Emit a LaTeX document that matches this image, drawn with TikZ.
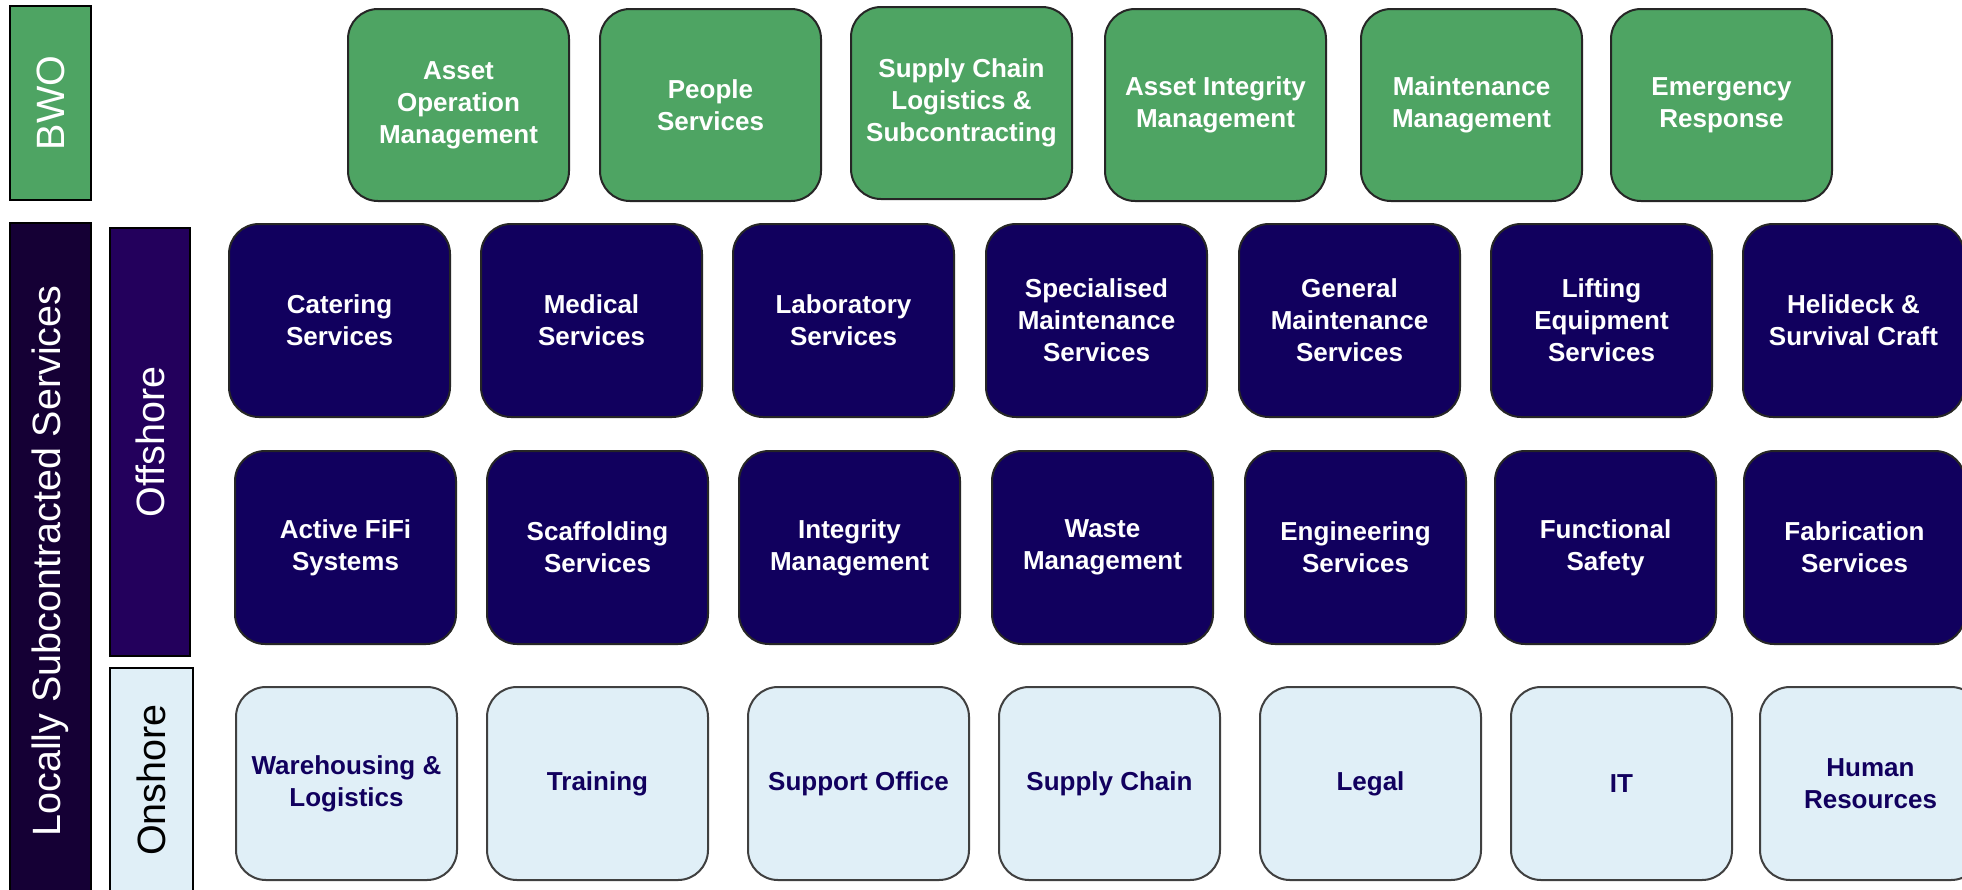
\documentclass[tikz,border=0pt]{standalone}
\usepackage{fontspec}
\setmainfont{Liberation Sans}
\definecolor{bwogreen}{HTML}{4EA463}
\definecolor{navy}{HTML}{11005E}
\definecolor{offbar}{HTML}{23005C}
\definecolor{locbar}{HTML}{150035}
\definecolor{light}{HTML}{E0EFF7}
\tikzset{
  sbox/.style={draw=black!85, line width=2pt, rounded corners=30pt, minimum width=221pt, minimum height=193pt, inner sep=0pt, anchor=north west, align=center, font=\bfseries\fontsize{26}{32}\selectfont},
  gbox/.style={sbox, fill=bwogreen, text=white, minimum height=192pt},
  nbox/.style={sbox, fill=navy, text=white},
  lbox/.style={sbox, fill=light, text=navy, draw=black!75},
  bar/.style={draw=black, line width=1.5pt},
  barlabel/.style={rotate=90, font=\fontsize{39.5}{45}\selectfont}
}
\begin{document}
\begin{tikzpicture}[x=1pt,y=-1pt]
\useasboundingbox (0,0) rectangle (1962,889);
\clip (0,0) rectangle (1962,889);
\fill[white] (0,0) rectangle (1962,889);
% side bars
\draw[bar, fill=bwogreen] (10,6) rectangle (91,200);
\node[barlabel, text=white] (bwo) at (50.5,103) {BWO};
\draw[bar, fill=locbar] (10,223) rectangle (91,895);
\node[barlabel, text=white] (loc) at (50.5,561) {Locally Subcontracted Services};
\draw[bar, fill=offbar] (110,228) rectangle (190,656);
\node[barlabel, text=white] (off) at (150,442) {Offshore};
\draw[bar, fill=light] (110,668) rectangle (193,895);
\node[barlabel, text=black] (on) at (151.5,780) {Onshore};
% BWO row
\node[gbox] (b1) at (347,8) {Asset\\Operation\\Management};
\node[gbox] (b2) at (599,8) {People\\Services};
\node[gbox] (b3) at (850,6) {Supply Chain\\Logistics \&\\Subcontracting};
\node[gbox] (b4) at (1104,8) {Asset Integrity\\Management};
\node[gbox] (b5) at (1360,8) {Maintenance\\Management};
\node[gbox] (b6) at (1610,8) {Emergency\\Response};
% Offshore row 1
\node[nbox] (o1) at (228,223) {Catering\\Services};
\node[nbox] (o2) at (480,223) {Medical\\Services};
\node[nbox] (o3) at (732,223) {Laboratory\\Services};
\node[nbox] (o4) at (985,223) {Specialised\\Maintenance\\Services};
\node[nbox] (o5) at (1238,223) {General\\Maintenance\\Services};
\node[nbox] (o6) at (1490,223) {Lifting\\Equipment\\Services};
\node[nbox] (o7) at (1742,223) {Helideck \&\\Survival Craft};
% Offshore row 2
\node[nbox] (p1) at (234,450) {Active FiFi\\Systems};
\node[nbox] (p2) at (486,450) {Scaffolding\\Services};
\node[nbox] (p3) at (738,450) {Integrity\\Management};
\node[nbox] (p4) at (991,450) {Waste\\Management};
\node[nbox] (p5) at (1244,450) {Engineering\\Services};
\node[nbox] (p6) at (1494,450) {Functional\\Safety};
\node[nbox] (p7) at (1743,450) {Fabrication\\Services};
% Onshore row
\node[lbox] (s1) at (235,686) {Warehousing \&\\Logistics};
\node[lbox] (s2) at (486,686) {Training};
\node[lbox] (s3) at (747,686) {Support Office};
\node[lbox] (s4) at (998,686) {Supply Chain};
\node[lbox] (s5) at (1259,686) {Legal};
\node[lbox] (s6) at (1510,686) {IT};
\node[lbox] (s7) at (1759,686) {Human\\Resources};
\end{tikzpicture}
\end{document}
